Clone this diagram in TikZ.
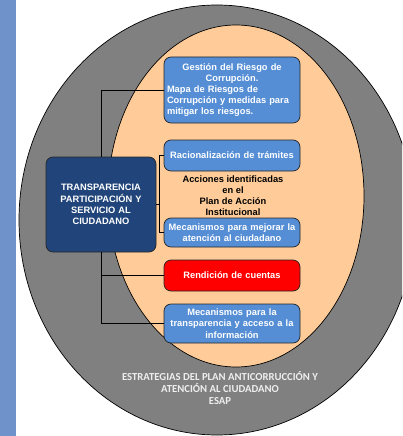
\documentclass[tikz,border=0pt]{standalone}
\usepackage{fontspec}
\setmainfont{Liberation Sans}
\newfontfamily\calibrifont{Carlito}
\definecolor{barblue}{RGB}{112,146,202}
\definecolor{outergray}{RGB}{128,128,128}
\definecolor{peach}{RGB}{255,204,153}
\definecolor{boxblue}{RGB}{85,142,213}
\definecolor{darkblue}{RGB}{33,69,122}
\definecolor{labelgray}{RGB}{238,238,238}

\begin{document}
\begin{tikzpicture}[x=1pt,y=-1pt,
  box/.style={draw=black!85, line width=0.7pt, rounded corners=7pt, fill=boxblue, text=white,
    font=\fontsize{9.3}{11.2}\selectfont\bfseries, text width=130pt, inner xsep=3pt, inner ysep=1pt, align=center},
  link/.style={line width=0.7pt}]
  \clip (0,0) rectangle (402,436);
  \fill[barblue] (0,0) rectangle (16,436);
  \draw[fill=outergray, line width=0.7pt] (217,220) ellipse [x radius=198, y radius=215];
  \draw[fill=peach, line width=0.7pt] (236,196) ellipse [x radius=128, y radius=171];

  % acciones del plan
  \node[box, minimum height=66pt, align=left] (gestion) at (232,90)
    {{\centering Gestión del Riesgo de\\ Corrupción.\par}Mapa de Riesgos de\\ Corrupción y medidas para\\ mitigar los riesgos.};
  \node[box, minimum height=31pt] (racional) at (232,155.5) {Racionalización de trámites};
  \node[font=\fontsize{9.3}{11}\selectfont\bfseries, align=center] (acciones) at (233,196)
    {Acciones identificadas\\ en el\\ Plan de Acción\\ Institucional};
  \node[box, minimum height=29pt] (mejorar) at (232,232.5) {Mecanismos para mejorar la\\ atención al ciudadano};
  \node[box, fill=red, minimum height=31pt] (rendicion) at (232,275.5) {Rendición de cuentas};
  \node[box, minimum height=39pt] (transp) at (232,323.5) {Mecanismos para la\\ transparencia y acceso a la\\ información};

  \node[box, fill=darkblue, text width=104pt, minimum height=95pt] (eje) at (101,204.5)
    {TRANSPARENCIA\\ PARTICIPACIÓN Y\\ SERVICIO AL\\ CIUDADANO};

  % conectores
  \draw[link] (gestion.west) -| (eje.north);
  \draw[link] (eje.south) |- (transp.west);
  \draw[link] (eje.south |- rendicion.west) -- (rendicion.west);
  \draw[link] (eje.east) -- ++(3,0) coordinate (brazo);
  \draw[link] (racional.west) -| (brazo) |- (mejorar.west);

  \node[text=labelgray, font=\calibrifont\fontsize{10.7}{12}\selectfont\bfseries, align=center] (titulo) at (220,388)
    {ESTRATEGIAS DEL PLAN ANTICORRUCCIÓN Y\\ ATENCIÓN AL CIUDADANO\\ ESAP};
\end{tikzpicture}
\end{document}
